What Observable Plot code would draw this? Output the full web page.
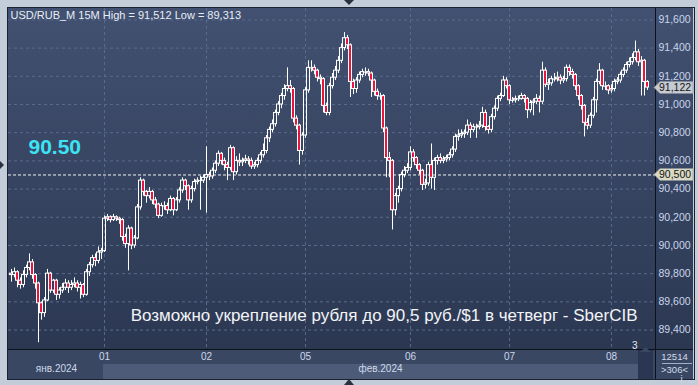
<!DOCTYPE html>
<html><head><meta charset="utf-8">
<script src="https://cdn.jsdelivr.net/npm/d3@7"></script>
<script src="https://cdn.jsdelivr.net/npm/@observablehq/plot@0.6"></script>
<style>
html,body{margin:0;padding:0;background:#c3cdd9;}
#wrap{position:relative;width:698px;height:385px;background:#c3cdd9;overflow:hidden;font-family:"Liberation Sans",Arial,sans-serif;}
.abs{position:absolute;}
.lbl{line-height:10px;}
</style></head>
<body>
<div id="wrap">
  <div class="abs" style="left:8px;top:8px;width:647px;height:341px;background:linear-gradient(#425171,#2c3852);"></div>
  <div class="abs" style="left:655px;top:8px;width:38px;height:341px;background:linear-gradient(#425171,#2c3852);"></div>
  <div class="abs" style="left:8px;top:349px;width:685px;height:30px;background:#3a4763;"></div>
  <div class="abs" style="left:103px;top:364px;width:535px;height:15px;background:#4d5b78;"></div>
  <div class="abs" style="left:638px;top:350px;width:15px;height:29px;background:#2b3652;"></div>
  <div class="abs" style="left:7px;top:7px;width:686px;height:371px;border:1px solid #1a2130;"></div>
  <div class="abs" style="left:8px;top:349px;width:685px;height:1px;background:#0d111b;"></div>
  <div class="abs" style="left:655px;top:8px;width:1px;height:371px;background:#0d111b;"></div>
  <div class="abs" style="left:662px;top:363px;width:30px;height:1px;background:#9fb0c8;"></div>
  <div class="abs" id="n1" style="left:656px;top:350px;width:37px;text-align:center;font-size:9.5px;line-height:13px;color:#d2dcec;"></div>
  <div class="abs lbl" id="n3" style="left:632px;top:341px;font-size:10px;color:#e4eaf4;"></div>
  <svg class="abs" style="left:0;top:0" width="698" height="385">
    <polygon points="344,0 354,0 349,5" fill="#2a3040"/>
    <polygon points="344,385 354,385 349,379" fill="#2a3040"/>
    <polygon points="0,161 0,169 4,165" fill="#2a3040"/>
    <polygon points="640,352 651,352 645.5,347" fill="#3a4763"/>
  </svg>
  <div id="chart" class="abs" style="left:0;top:0;"></div>
</div>
<script>
const title = "USD/RUB_M 15M High = 91,512 Low = 89,313";
const note = "Возможно укрепление рубля до 90,5 руб./$1 в четверг - SberCIB";
const levelLabel = "90.50";
const level = 90.5;
const lastPrice = 91.122;
const barsInfo = ["12514", ">306<", "3"];
const firstOpen = 89.80;
const closes = [
89.79,89.81,89.75,89.72,89.79,89.84,89.88,89.79,89.73,89.59,
89.52,89.61,89.80,89.68,89.75,89.65,89.68,89.70,89.73,89.70,
89.72,89.73,89.70,89.72,89.65,89.81,89.86,89.91,89.89,89.95,
89.96,90.19,90.20,90.18,90.20,90.19,90.18,90.06,90.01,90.12,
90.00,90.05,90.27,90.46,90.38,90.35,90.38,90.32,90.29,90.21,
90.28,90.28,90.25,90.33,90.25,90.32,90.39,90.46,90.42,90.32,
90.40,90.45,90.46,90.46,90.48,90.50,90.49,90.53,90.58,90.65,
90.60,90.57,90.55,90.69,90.52,90.60,90.59,90.60,90.61,90.60,
90.56,90.57,90.60,90.64,90.67,90.76,90.82,90.86,90.94,91.00,
91.06,91.11,91.13,91.11,90.90,90.85,90.67,90.78,91.10,91.26,
91.26,91.24,91.19,91.18,90.99,90.94,91.13,91.19,91.24,91.31,
91.40,91.47,91.42,91.16,91.11,91.17,91.21,91.23,91.23,91.22,
91.17,91.09,91.06,91.06,90.83,90.62,90.60,90.25,90.35,90.40,
90.50,90.53,90.55,90.66,90.62,90.57,90.53,90.43,90.44,90.57,
90.48,90.60,90.62,90.60,90.61,90.62,90.64,90.68,90.77,90.78,
90.79,90.80,90.85,90.82,90.84,90.84,90.85,90.94,90.84,90.82,
90.91,90.97,91.04,91.06,91.17,91.13,91.03,91.03,91.04,91.04,
91.06,91.04,90.96,91.01,91.02,91.04,91.02,91.24,91.14,91.15,
91.18,91.18,91.19,91.17,91.18,91.26,91.23,91.21,91.13,91.06,
90.99,90.87,90.85,90.92,91.03,91.16,91.24,91.13,91.13,91.10,
91.11,91.16,91.17,91.21,91.24,91.28,91.30,91.33,91.37,91.30,
91.31,91.16,91.12];
const highs = [
89.83,89.84,89.82,89.77,89.82,89.86,89.94,89.90,89.80,89.74,
89.60,89.63,89.83,89.81,89.76,89.76,89.70,89.73,89.76,89.75,
89.75,89.77,89.75,89.74,89.73,89.83,89.88,89.93,89.94,89.99,
89.98,90.21,90.22,90.21,90.22,90.21,90.20,90.19,90.08,90.14,
90.13,90.07,90.29,90.48,90.47,90.39,90.41,90.39,90.34,90.30,
90.30,90.31,90.30,90.35,90.34,90.34,90.41,90.48,90.47,90.43,
90.42,90.47,90.48,90.49,90.50,90.70,90.52,90.55,90.60,90.67,
90.66,90.62,90.59,90.71,90.70,90.63,90.65,90.62,90.64,90.63,
90.62,90.59,90.62,90.66,90.72,90.78,90.84,90.89,90.96,91.02,
91.08,91.14,91.26,91.17,91.12,90.92,90.86,90.80,91.12,91.31,
91.31,91.28,91.25,91.21,91.19,91.01,91.15,91.22,91.27,91.34,
91.43,91.51,91.49,91.43,91.18,91.19,91.23,91.25,91.26,91.25,
91.23,91.18,91.11,91.08,91.07,90.84,90.66,90.61,90.37,90.42,
90.52,90.56,90.58,90.70,90.68,90.63,90.58,90.54,90.47,90.59,
90.72,90.62,90.64,90.65,90.63,90.64,90.66,90.70,90.79,90.82,
90.82,90.82,90.89,90.87,90.86,90.86,90.88,90.98,90.96,90.85,
90.93,90.99,91.06,91.08,91.20,91.19,91.14,91.05,91.06,91.06,
91.08,91.07,91.05,91.03,91.04,91.07,91.06,91.30,91.26,91.18,
91.20,91.22,91.23,91.21,91.20,91.28,91.28,91.25,91.22,91.14,
91.07,91.00,90.90,90.94,91.05,91.18,91.29,91.25,91.16,91.14,
91.14,91.18,91.19,91.23,91.26,91.30,91.33,91.36,91.45,91.39,
91.34,91.32,91.17];
const lows = [
89.74,89.77,89.70,89.69,89.70,89.77,89.82,89.76,89.69,89.31,
89.47,89.49,89.60,89.66,89.66,89.61,89.62,89.66,89.68,89.66,
89.68,89.70,89.67,89.62,89.63,89.64,89.78,89.84,89.85,89.87,
89.90,89.95,90.17,90.16,90.17,90.17,90.15,90.03,89.98,89.82,
89.97,89.98,90.04,90.25,90.35,90.30,90.33,90.29,90.26,90.19,
90.20,90.25,90.22,90.24,90.21,90.24,90.30,90.37,90.39,90.25,
90.30,90.38,90.43,90.25,90.44,90.23,90.46,90.47,90.51,90.56,
90.57,90.53,90.46,90.53,90.46,90.50,90.56,90.56,90.58,90.57,
90.54,90.54,90.55,90.58,90.62,90.65,90.73,90.80,90.84,90.92,
90.97,91.03,91.09,91.08,90.87,90.82,90.57,90.64,90.76,91.08,
91.23,91.21,91.16,91.14,90.94,90.92,90.92,91.11,91.17,91.22,
91.29,91.38,91.39,91.05,91.07,91.08,91.15,91.19,91.20,91.20,
91.05,91.06,91.03,91.03,90.80,90.48,90.48,90.11,90.21,90.30,
90.38,90.48,90.51,90.53,90.59,90.54,90.50,90.39,90.40,90.42,
90.40,90.39,90.57,90.58,90.58,90.59,90.60,90.62,90.66,90.74,
90.76,90.76,90.78,90.76,90.80,90.76,90.82,90.83,90.81,90.79,
90.80,90.89,90.95,91.02,91.05,91.11,91.00,91.01,91.01,91.02,
91.03,91.01,90.90,90.94,90.92,91.00,90.94,91.00,91.12,91.10,
91.13,91.16,91.16,91.14,91.15,91.16,91.20,91.18,91.10,91.03,
90.96,90.77,90.82,90.83,90.90,90.94,91.14,91.10,91.10,91.07,
91.08,91.09,91.14,91.15,91.19,91.22,91.26,91.28,91.31,91.27,
91.06,91.06,91.10];
const dayStarts = [31, 65, 98, 133, 166, 200];
const dayLabels = ["01", "02", "05", "06", "07", "08"];
const monthLabels = ["янв.2024", "фев.2024"];
const monthCenters = [15, 123];
const yTicks = [89.4, 89.6, 89.8, 90.0, 90.2, 90.4, 90.6, 90.8, 91.0, 91.2, 91.4, 91.6];

const candles = closes.map((c, i) => {
  const o = i === 0 ? firstOpen : closes[i - 1];
  return {i, open: o, close: c, high: highs[i], low: lows[i], top: Math.max(o, c), bot: Math.min(o, c), down: c < o};
});
const fmt = v => v.toFixed(3).replace(".", ",");
const grid = "#5a6b8c";
const hw = 0.5;

const chart = Plot.plot({
  width: 698, height: 385,
  marginLeft: 8, marginRight: 43, marginTop: 8, marginBottom: 36,
  style: {background: "transparent", overflow: "visible", fontFamily: "'Liberation Sans', Arial, sans-serif"},
  x: {domain: [-1, 214.67], axis: null},
  y: {domain: [89.262, 91.681], axis: null},
  marks: [
    Plot.ruleY(yTicks, {stroke: grid, strokeDasharray: "3,3", strokeWidth: 1}),
    Plot.ruleX(dayStarts, {stroke: grid, strokeDasharray: "3,3", strokeWidth: 1}),
    Plot.ruleY([level], {stroke: "#f2f2f2", strokeDasharray: "3,2", strokeWidth: 1}),
    Plot.ruleX(candles, {x: "i", y1: "top", y2: "high", stroke: "#ffffff", strokeWidth: 1}),
    Plot.ruleX(candles, {x: "i", y1: "bot", y2: "low", stroke: "#ffffff", strokeWidth: 1}),
    Plot.rect(candles.filter(d => d.top !== d.bot), {
      x1: d => d.i - hw, x2: d => d.i + hw, y1: "bot", y2: "top",
      fill: d => d.down ? "#e8163e" : "none", stroke: "#ffffff", strokeWidth: 1
    }),
    Plot.ruleY(candles.filter(d => d.top === d.bot), {x1: d => d.i - hw - 0.3, x2: d => d.i + hw + 0.3, y: "close", stroke: "#ffffff", strokeWidth: 1}),
    Plot.axisY(yTicks, {anchor: "right", tickSize: 0, tickPadding: 3, tickFormat: fmt, fill: "#c9d6ec", fontSize: 10.5}),
    Plot.axisX(dayStarts, {anchor: "bottom", tickSize: 0, tickPadding: 3, tickFormat: d => dayLabels[dayStarts.indexOf(d)], fill: "#cdd8ea", fontSize: 10}),
    Plot.text(monthLabels, {x: monthCenters, text: d => d, frameAnchor: "bottom", dy: 22, fill: "#cdd8ea", fontSize: 10}),
    Plot.text([title], {frameAnchor: "top-left", dx: 2, dy: 7, lineAnchor: "middle", textAnchor: "start", fill: "#e8eef6", fontSize: 11}),
    Plot.text([levelLabel], {y: [90.70], frameAnchor: "left", dx: 20, textAnchor: "start", fill: "#3de3f2", fontSize: 21, fontWeight: "bold"}),
    Plot.text([note], {y: [89.50], frameAnchor: "right", dx: -18, textAnchor: "end", fill: "#f2f4f8", fontSize: 17})
  ]
});
document.getElementById("chart").appendChild(chart);

// price tags on the right axis, positioned with the chart's y scale
const ys = chart.scale("y");
const svg = d3.select(chart);
const tags = [{v: lastPrice, bg: "#c6cad2"}, {v: level, bg: "#d9d9c4"}];
for (const t of tags) {
  const yc = Math.round(ys.apply(t.v)) + 0.5;
  svg.append("polygon")
    .attr("points", `654,${yc} 660,${yc - 6} 693,${yc - 6} 693,${yc + 6} 660,${yc + 6}`)
    .attr("fill", t.bg).attr("stroke", "#8a8f98").attr("stroke-width", 0.6);
  svg.append("text").attr("x", 659).attr("y", yc + 3.8)
    .attr("text-anchor", "start")
    .attr("font-size", 10.5).attr("fill", "#151515").text(fmt(t.v));
}
const n1 = document.getElementById("n1");
n1.appendChild(document.createTextNode(barsInfo[0]));
n1.appendChild(document.createElement("br"));
n1.appendChild(document.createTextNode(barsInfo[1]));
document.getElementById("n3").textContent = barsInfo[2];
</script>
</body></html>
